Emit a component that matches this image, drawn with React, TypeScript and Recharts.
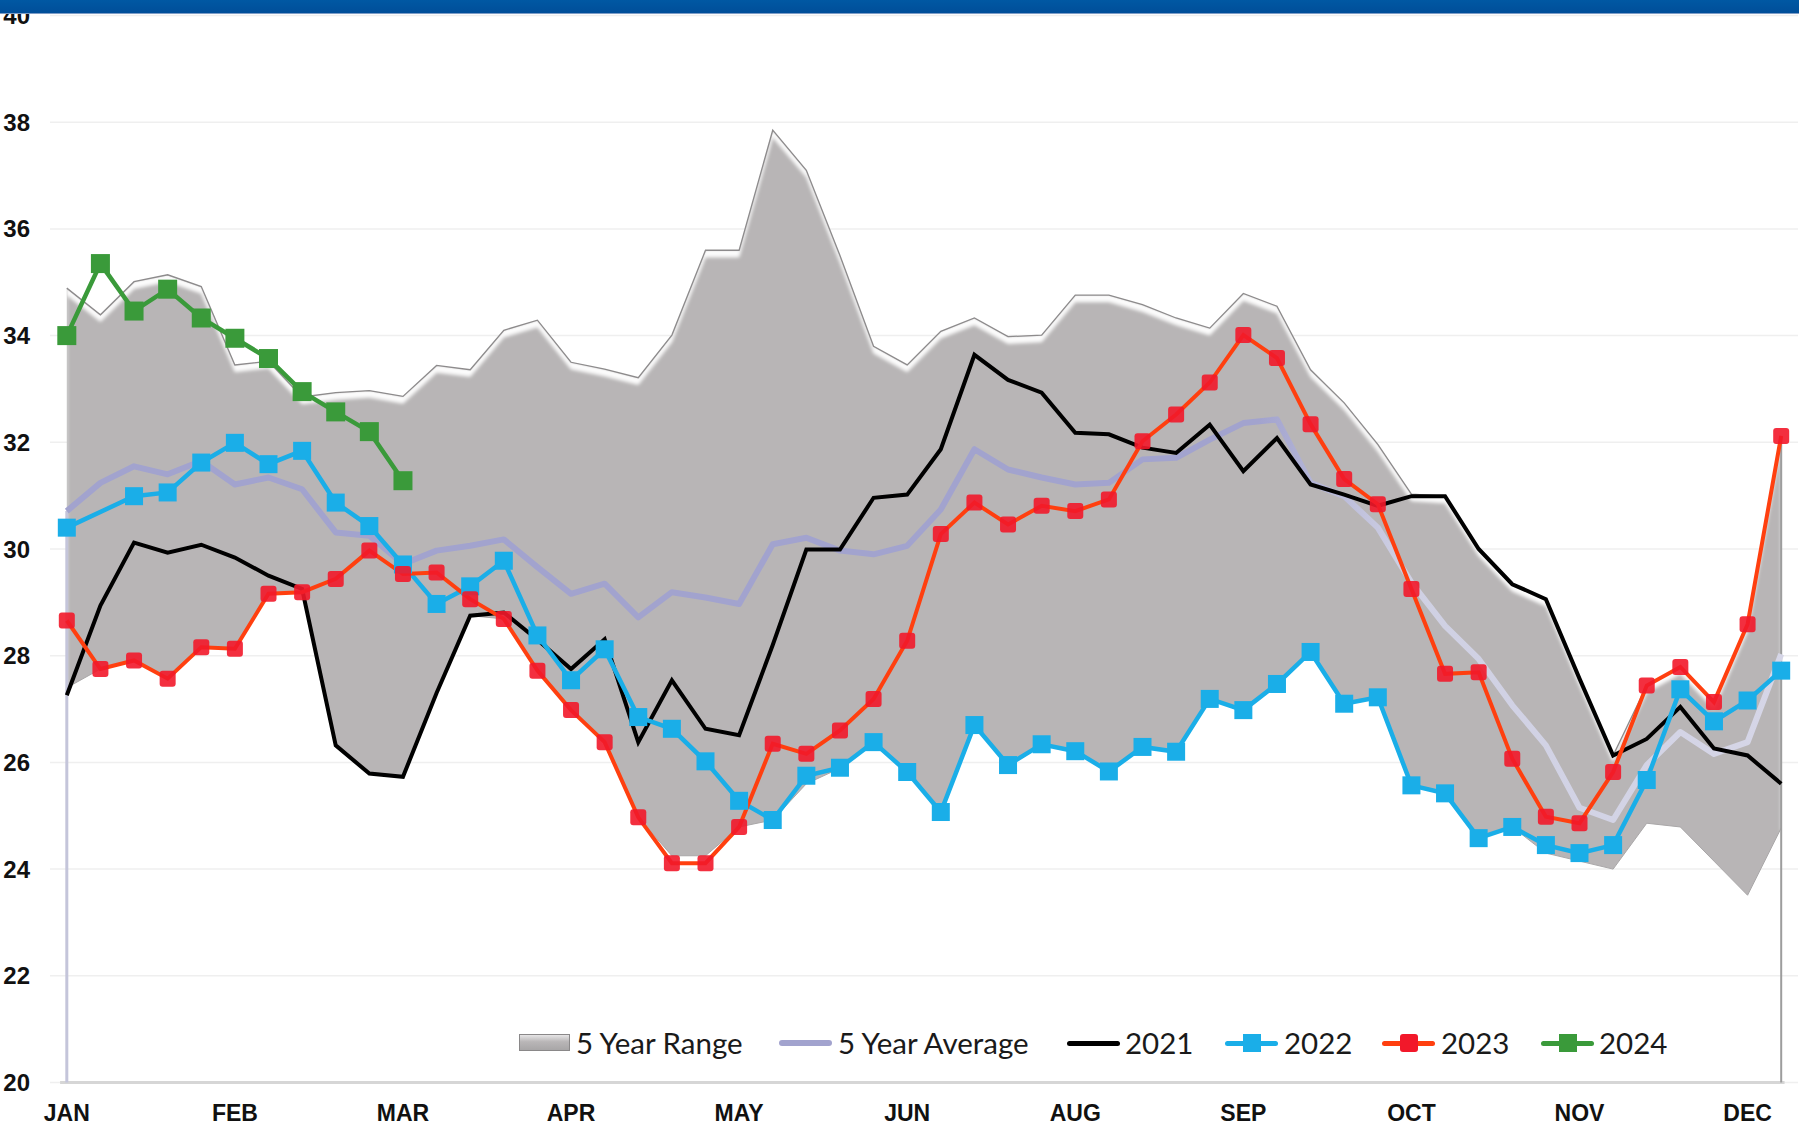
import React from 'react';
import { ComposedChart, Area, Line, XAxis, YAxis, CartesianGrid, ReferenceLine } from 'recharts';

const weeks = [1,2,3,4,5,6,7,8,9,10,11,12,13,14,15,16,17,18,19,20,21,22,23,24,25,26,27,28,29,30,31,32,33,34,35,36,37,38,39,40,41,42,43,44,45,46,47,48,49,50,51,52];
const monthTicks = [1,6,11,16,21,26,31,36,41,46,51];
const monthLabels = ['JAN','FEB','MAR','APR','MAY','JUN','AUG','SEP','OCT','NOV','DEC'];
const yTicks = [20,22,24,26,28,30,32,34,36,38,40];

const rangeLow = [27.4,27.75,27.91,27.57,28.16,28.13,29.16,29.19,26.32,25.79,25.73,27.3,28.75,28.69,27.72,26.98,26.38,24.97,24.25,24.25,24.79,24.92,25.6,25.89,26.35,25.82,25.06,26.7,25.95,26.33,26.2,25.82,26.28,26.2,27.19,26.97,27.46,28.07,27.1,27.22,25.57,25.42,24.58,24.79,24.3,24.15,24.0,24.86,24.79,24.15,23.51,24.77];
const rangeHigh = [34.89,34.39,35.01,35.14,34.92,33.45,33.52,32.85,32.93,32.97,32.86,33.44,33.36,34.1,34.29,33.5,33.37,33.21,34.01,35.6,35.6,37.85,37.1,35.5,33.8,33.45,34.08,34.33,33.98,34.01,34.76,34.76,34.58,34.33,34.14,34.79,34.55,33.36,32.74,31.96,31.03,30.99,30.0,29.34,29.06,27.57,26.13,27.44,27.79,27.13,28.59,32.12];
const avg5 = [30.71,31.24,31.55,31.4,31.65,31.21,31.34,31.12,30.31,30.25,29.72,29.97,30.06,30.18,29.66,29.16,29.35,28.72,29.19,29.09,28.97,30.09,30.21,29.97,29.9,30.06,30.74,31.87,31.49,31.34,31.21,31.24,31.68,31.71,32.05,32.36,32.43,31.24,30.99,30.4,29.37,28.56,27.94,27.07,26.32,25.15,24.92,25.95,26.57,26.16,26.38,28.03];
const y2021 = [27.26,28.94,30.12,29.93,30.08,29.84,29.5,29.25,26.32,25.79,25.73,27.3,28.75,28.81,28.3,27.75,28.31,26.38,27.54,26.63,26.51,28.2,29.99,29.99,30.96,31.02,31.87,33.64,33.17,32.93,32.18,32.15,31.9,31.8,32.33,31.46,32.08,31.21,31.02,30.81,30.99,30.99,30.0,29.34,29.06,27.57,26.13,26.44,27.04,26.26,26.13,25.6];
const y2022 = [30.4,null,30.99,31.06,31.62,31.99,31.59,31.84,30.87,30.43,29.71,28.97,29.3,29.78,28.38,27.54,28.12,26.85,26.63,26.02,25.28,24.92,25.75,25.9,26.38,25.82,25.07,26.7,25.95,26.34,26.21,25.83,26.29,26.2,27.19,26.98,27.47,28.07,27.1,27.22,25.57,25.42,24.58,24.79,24.45,24.3,24.45,25.67,27.37,26.77,27.16,27.72];
const y2023 = [28.66,27.75,27.91,27.57,28.16,28.13,29.16,29.19,29.44,29.97,29.53,29.56,29.06,28.69,27.72,26.98,26.38,24.97,24.11,24.11,24.79,26.35,26.16,26.6,27.19,28.28,30.28,30.87,30.46,30.81,30.71,30.93,32.02,32.52,33.12,34.01,33.58,32.34,31.31,30.84,29.25,27.66,27.69,26.07,24.98,24.86,25.82,27.44,27.79,27.13,28.59,32.12];
const y2024 = [34.0,35.35,34.46,34.87,34.33,33.95,33.57,32.95,32.57,32.2,31.28];

const data = weeks.map((w, i) => ({
  week: w,
  range: [rangeLow[i], rangeHigh[i]],
  lo: rangeLow[i],
  hi: rangeHigh[i],
  avg: avg5[i],
  y2021: y2021[i],
  y2022: y2022[i],
  y2023: y2023[i],
  y2024: i < y2024.length ? y2024[i] : null,
}));

const C = {
  range: '#b8b5b6',
  rangeEdge: '#8d8b8c',
  avg: '#a2a3ce',
  y2021: '#000000',
  y2022: '#1aaee8',
  y2023line: '#ff3f0f',
  y2023dot: '#f2182a',
  y2024: '#3a9a3a',
};

const axisFont = '"Liberation Sans", Arial, sans-serif';

const squareDot = (size: number, fill: string, rx = 0, opacity = 1) => (p: any) => {
  if (p == null || p.cx == null || p.cy == null || p.value == null) return <g key={`n-${p?.index}`} />;
  return (
    <rect key={`d-${p.index}`} x={p.cx - size / 2} y={p.cy - size / 2} width={size} height={size} rx={rx} fill={fill} fillOpacity={opacity} />
  );
};

const YTick = (props: any) => (
  <text x={30} y={props.y} dy={8.5} textAnchor="end" fontFamily={axisFont} fontWeight={700} fontSize={24} fill="#111">
    {props.payload.value}
  </text>
);

const XTick = (props: any) => {
  const idx = monthTicks.indexOf(props.payload.value);
  return (
    <text x={props.x} y={props.y} dy={30} textAnchor="middle" fontFamily={axisFont} fontWeight={700} fontSize={23} fill="#111">
      {monthLabels[idx]}
    </text>
  );
};

const legendItems = [
  { name: '5 Year Range', kind: 'range', color: C.range, icon: 519, text: 576 },
  { name: '5 Year Average', kind: 'line', color: C.avg, icon: 779, text: 838, w: 6 },
  { name: '2021', kind: 'line', color: C.y2021, icon: 1067, text: 1125, w: 5 },
  { name: '2022', kind: 'marker', color: C.y2022, dot: C.y2022, icon: 1225, text: 1284, w: 5 },
  { name: '2023', kind: 'marker', color: C.y2023line, dot: C.y2023dot, icon: 1382, text: 1441, w: 5 },
  { name: '2024', kind: 'marker', color: C.y2024, dot: C.y2024, icon: 1541, text: 1599, w: 5 },
];

const Legend2 = () => (
  <div style={{ position: 'absolute', left: 0, top: 0, width: 1799, height: 1124, pointerEvents: 'none' }}>
    {legendItems.map((it) => (
      <React.Fragment key={it.name}>
        {it.kind === 'range' ? (
          <div style={{ position: 'absolute', left: it.icon, top: 1034, width: 51, height: 17, background: 'linear-gradient(#e6e5e6, #b9b6b7 45%, #a8a6a7)', border: '1px solid #8a8889', boxSizing: 'border-box' }} />
        ) : (
          <div style={{ position: 'absolute', left: it.icon, top: 1043 - (it.w as number) / 2, width: 53, height: it.w, background: it.color, borderRadius: 3 }} />
        )}
        {it.kind === 'marker' && (
          <div style={{ position: 'absolute', left: it.icon + 17.5, top: 1034, width: 18, height: 18, background: it.dot, borderRadius: it.name === '2023' ? 3 : 0 }} />
        )}
        <div style={{ position: 'absolute', left: it.text, top: 1025, height: 36, lineHeight: '36px', fontFamily: 'Lato, "Open Sans", sans-serif', fontSize: 29.5, color: '#1a1a1a', whiteSpace: 'nowrap' }}>
          {it.name}
        </div>
      </React.Fragment>
    ))}
  </div>
);

export default function App() {
  return (
    <div style={{ position: 'absolute', left: 0, top: 0, width: 1799, height: 1124, background: '#fff', overflow: 'hidden' }}>
      <style>{`.range-area .recharts-area-area { filter: url(#bevel); }`}</style>
      <svg width="0" height="0" style={{ position: 'absolute' }}>
        <defs>
          <filter id="bevel" x="-5%" y="-5%" width="110%" height="110%">
            <feOffset in="SourceAlpha" dx="0" dy="7" result="off" />
            <feGaussianBlur in="off" stdDeviation="1.5" result="offb" />
            <feComposite in="SourceAlpha" in2="offb" operator="out" result="edge" />
            <feGaussianBlur in="edge" stdDeviation="1.2" result="edgeb" />
            <feFlood floodColor="#ffffff" floodOpacity="0.95" result="white" />
            <feComposite in="white" in2="edgeb" operator="in" result="hl" />
            <feComposite in="hl" in2="SourceAlpha" operator="in" result="hl2" />
            <feMerge>
              <feMergeNode in="SourceGraphic" />
              <feMergeNode in="hl2" />
            </feMerge>
          </filter>
          <linearGradient id="avgGrad" gradientUnits="userSpaceOnUse" x1="0" y1="0" x2="1799" y2="0">
            <stop offset="0" stopColor="#a2a3ce" />
            <stop offset="0.7" stopColor="#a2a3ce" />
            <stop offset="0.78" stopColor="#cfd0e3" />
            <stop offset="1" stopColor="#d6d6e7" />
          </linearGradient>
        </defs>
      </svg>
      <ComposedChart width={1799} height={1124} data={data} margin={{ top: 15.5, right: 1, bottom: 0, left: 0 }}>
        <CartesianGrid horizontal vertical={false} stroke="#efefef" strokeWidth={1.5} />
        <XAxis type="number" dataKey="week" domain={[0.5, 52.5]} ticks={monthTicks} interval={0} axisLine={false} tickLine={false} height={41.5} tick={<XTick />} />
        <YAxis type="number" domain={[20, 40]} ticks={yTicks} interval={0} axisLine={false} tickLine={false} width={50} tick={<YTick />} />
        <Area className="range-area" type="linear" dataKey="range" fill={C.range} fillOpacity={1} stroke="none" isAnimationActive={false} activeDot={false} />
        <Line type="linear" dataKey="hi" stroke={C.rangeEdge} strokeWidth={1.3} dot={false} activeDot={false} isAnimationActive={false} />
        <Line type="linear" dataKey="lo" stroke="#a9a7a8" strokeWidth={1} dot={false} activeDot={false} isAnimationActive={false} />
        <ReferenceLine segment={[{ x: 0.8, y: 20 }, { x: 52.1, y: 20 }]} stroke="#d6d6d6" strokeWidth={3} />
        <ReferenceLine segment={[{ x: 1, y: 20 }, { x: 1, y: avg5[0] }]} stroke="#c4c5da" strokeWidth={3} />
        <ReferenceLine segment={[{ x: 52, y: 20 }, { x: 52, y: rangeHigh[51] }]} stroke="#9d9d9d" strokeWidth={2} />
        <Line type="linear" dataKey="avg" stroke="url(#avgGrad)" strokeWidth={6} dot={false} activeDot={false} isAnimationActive={false} strokeLinejoin="round" />
        <Line type="linear" dataKey="y2021" stroke={C.y2021} strokeWidth={4} dot={false} activeDot={false} isAnimationActive={false} />
        <Line type="linear" dataKey="y2022" stroke={C.y2022} strokeWidth={4.5} connectNulls dot={squareDot(18, C.y2022)} activeDot={false} isAnimationActive={false} />
        <Line type="linear" dataKey="y2023" stroke={C.y2023line} strokeWidth={4} dot={squareDot(16, C.y2023dot, 3, 0.9)} activeDot={false} isAnimationActive={false} />
        <Line type="linear" dataKey="y2024" stroke={C.y2024} strokeWidth={4.5} dot={squareDot(19, C.y2024)} activeDot={false} isAnimationActive={false} />
      </ComposedChart>
      <Legend2 />
      <div style={{ position: 'absolute', left: 0, top: 0, width: 1799, height: 13, background: 'linear-gradient(#0058a3, #004e99)', borderBottom: '1px solid #7d9cc6' }} />
    </div>
  );
}
